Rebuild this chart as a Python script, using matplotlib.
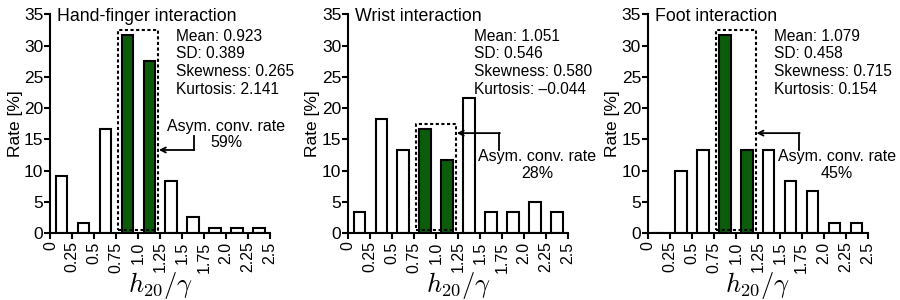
import matplotlib
matplotlib.use('Agg')
import matplotlib.pyplot as plt
import numpy as np

plt.rcParams['font.family'] = ['Liberation Sans', 'DejaVu Sans']
plt.rcParams['mathtext.fontset'] = 'cm'

# bin centers for h20/gamma histogram, bin width 0.25
bin_centers = [0.125, 0.375, 0.625, 0.875, 1.125, 1.375, 1.625, 1.875, 2.125, 2.375]
xtick_vals = [0, 0.25, 0.5, 0.75, 1.0, 1.25, 1.5, 1.75, 2.0, 2.25, 2.5]
xtick_labels = ['0', '0.25', '0.5', '0.75', '1.0', '1.25', '1.5', '1.75', '2.0', '2.25', '2.5']

titles = ['Hand-finger interaction', 'Wrist interaction', 'Foot interaction']
hand_rates = [9.17, 1.67, 16.67, 31.67, 27.5, 8.33, 2.5, 0.83, 0.83, 0.83]
wrist_rates = [3.33, 18.33, 13.33, 16.67, 11.67, 21.67, 3.33, 3.33, 5.0, 3.33]
foot_rates = [0.0, 10.0, 13.33, 31.67, 13.33, 13.33, 8.33, 6.67, 1.67, 1.67]
stats = [
    'Mean: 0.923\nSD: 0.389\nSkewness: 0.265\nKurtosis: 2.141',
    'Mean: 1.051\nSD: 0.546\nSkewness: 0.580\nKurtosis: \u20130.044',
    'Mean: 1.079\nSD: 0.458\nSkewness: 0.715\nKurtosis: 0.154',
]
conv_rates = ['59%', '28%', '45%']
green_bins = [3, 4]

all_rates = [hand_rates, wrist_rates, foot_rates]
green = '#0b5d0b'

fig = plt.figure(figsize=(9, 3), dpi=100)
lefts = [0.056, 0.387, 0.72]

for i, rates in enumerate(all_rates):
    ax = fig.add_axes([lefts[i], 0.223, 0.244, 0.729])
    colors = [green if k in green_bins else 'white' for k in range(len(rates))]
    ax.bar(bin_centers, rates, width=0.13, color=colors, edgecolor='black', linewidth=1.5, zorder=2)

    # dotted box round the two green bins
    top = max(rates[k] for k in green_bins) + 0.85
    x0, x1 = 0.775, 1.225
    ax.plot([x0, x1, x1, x0, x0], [0.5, 0.5, top, top, 0.5], color='black', lw=1.5,
            linestyle=(0, (1.5, 1.2)), zorder=3)

    # arrow pointing at the box
    if i == 0:
        ay, vx, vy = 13.3, 1.63, 15.5
        ax.text(2.0, 15.8, 'Asym. conv. rate\n' + conv_rates[i], ha='center', va='center',
                fontsize=11.5, linespacing=1.1)
    else:
        ay, vx, vy = 16.0, 1.72, 13.3
        ax.text(2.15, 10.9, 'Asym. conv. rate\n' + conv_rates[i], ha='center', va='center',
                fontsize=11.5, linespacing=1.1)
    ax.plot([vx, vx], [ay, vy], color='black', lw=1.3)
    ax.annotate('', xy=(x1 + 0.01, ay), xytext=(vx + 0.006, ay),
                arrowprops=dict(arrowstyle='->', lw=1.3, color='black', shrinkA=0, shrinkB=0,
                                mutation_scale=9))

    ax.text(0.08, 34.6, titles[i], ha='left', va='center', fontsize=12.8)
    ax.text(1.43, 32.7, stats[i], ha='left', va='top', fontsize=11.2, linespacing=1.22)

    ax.set_xlim(0, 2.5)
    ax.set_ylim(0, 35)
    ax.set_xticks(xtick_vals)
    ax.set_xticklabels(xtick_labels, rotation=90, fontsize=11.5)
    ax.set_yticks(np.arange(0, 36, 5))
    ax.tick_params(axis='y', labelsize=12.5, width=1.5, length=4, pad=1)
    ax.tick_params(axis='x', width=1.5, length=4, pad=2)
    for s in ['top', 'right']:
        ax.spines[s].set_visible(False)
    for s in ['left', 'bottom']:
        ax.spines[s].set_linewidth(1.5)
    ax.set_ylabel('Rate [%]', fontsize=12.5, labelpad=1)
    ax.set_xlabel(r'$h_{20}/\gamma$', fontsize=19, labelpad=-2)

fig.savefig('out.png', dpi=100)
